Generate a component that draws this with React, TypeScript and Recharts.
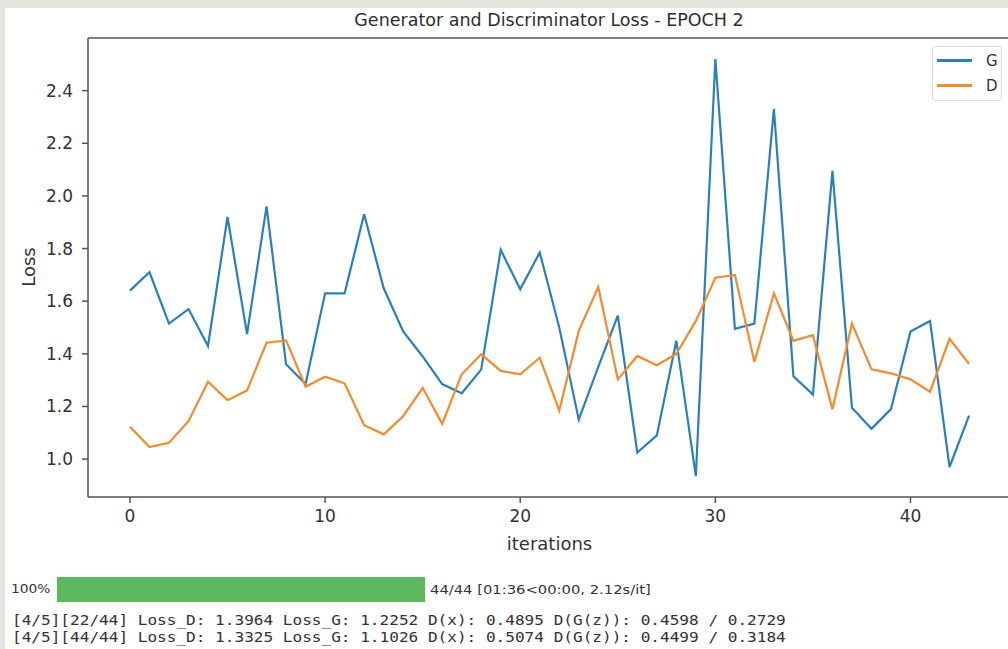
import { LineChart, Line, XAxis, YAxis, ReferenceLine } from "recharts";

const iterations = [
  0, 1, 2, 3, 4, 5, 6, 7, 8, 9, 10, 11, 12, 13, 14, 15, 16, 17, 18, 19, 20, 21,
  22, 23, 24, 25, 26, 27, 28, 29, 30, 31, 32, 33, 34, 35, 36, 37, 38, 39, 40, 41, 42, 43,
];

const lossG = [
  1.64, 1.71, 1.515, 1.57, 1.43, 1.92, 1.475, 1.96, 1.36, 1.285, 1.63, 1.63, 1.93, 1.65,
  1.485, 1.39, 1.285, 1.25, 1.34, 1.795, 1.645, 1.785, 1.5, 1.15, 1.35, 1.545, 1.025, 1.09,
  1.45, 0.935, 2.52, 1.495, 1.515, 2.33, 1.315, 1.245, 2.095, 1.195, 1.115, 1.19, 1.485,
  1.525, 0.97, 1.165,
];

const lossD = [
  1.123, 1.046, 1.062, 1.144, 1.294, 1.224, 1.261, 1.442, 1.451, 1.275, 1.313, 1.288, 1.129,
  1.094, 1.163, 1.271, 1.134, 1.322, 1.398, 1.335, 1.322, 1.385, 1.185, 1.487, 1.654, 1.303,
  1.392, 1.357, 1.4, 1.525, 1.689, 1.7, 1.369, 1.63, 1.449, 1.471, 1.189, 1.515, 1.341, 1.326,
  1.303, 1.256, 1.457, 1.362,
];

const xTicks = [0, 10, 20, 30, 40];
const yTicks = [1.0, 1.2, 1.4, 1.6, 1.8, 2.0, 2.2, 2.4];

const logLines = [
  "[4/5][22/44] Loss_D: 1.3964 Loss_G: 1.2252 D(x): 0.4895 D(G(z)): 0.4598 / 0.2729",
  "[4/5][44/44] Loss_D: 1.3325 Loss_G: 1.1026 D(x): 0.5074 D(G(z)): 0.4499 / 0.3184",
];

const data = iterations.map((it, i) => ({ it, G: lossG[i], D: lossD[i] }));

const BLUE = "#2a80bf";
const ORANGE = "#f58b2a";
const AXIS = "#555";
const font = "DejaVu Sans, sans-serif";

// legend drawn as a small box in the top right corner, like matplotlib's
function LossLegend() {
  const items = [
    { name: "G", color: BLUE },
    { name: "D", color: ORANGE },
  ];
  return (
    <div
      style={{
        position: "absolute",
        left: 932,
        top: 46,
        width: 70,
        height: 55,
        border: "1px solid #ddd",
        borderRadius: 3,
        background: "#fff",
        boxSizing: "border-box",
        paddingTop: 1,
        fontFamily: font,
        fontSize: 15,
        color: "#333",
      }}
    >
      {items.map((d) => (
        <div key={d.name} style={{ display: "flex", alignItems: "center", height: 25 }}>
          <div style={{ width: 35, height: 2.5, background: d.color, marginLeft: 4 }} />
          <span style={{ marginLeft: 14 }}>{d.name}</span>
        </div>
      ))}
    </div>
  );
}

export default function App() {
  return (
    <div
      style={{
        position: "absolute",
        left: 0,
        top: 0,
        width: 1008,
        height: 649,
        background: "#e6e4df",
        overflow: "hidden",
        fontFamily: font,
      }}
    >
      <div style={{ position: "absolute", left: 5, top: 8, right: 0, bottom: 0, background: "#fff" }} />

      <div
        style={{
          position: "absolute",
          left: 549,
          top: 10,
          transform: "translateX(-50%)",
          whiteSpace: "nowrap",
          fontSize: 17.5,
          color: "#2e2e2e",
        }}
      >
        Generator and Discriminator Loss - EPOCH 2
      </div>

      <LineChart
        width={1020}
        height={560}
        data={data}
        margin={{ top: 38, right: 9, left: 0, bottom: 3 }}
        style={{ position: "absolute", left: 0, top: 0 }}
      >
        <XAxis
          dataKey="it"
          type="number"
          domain={[-2.15, 45.15]}
          allowDataOverflow
          ticks={xTicks}
          height={60}
          stroke={AXIS}
          strokeWidth={1.5}
          tickSize={6}
          tickMargin={7}
          tick={{ fill: "#333", fontSize: 17, fontFamily: font }}
          label={{
            value: "iterations",
            position: "insideBottom",
            offset: 7,
            fill: "#333",
            fontSize: 18,
            fontFamily: font,
          }}
        />
        <YAxis
          type="number"
          domain={[0.856, 2.6]}
          allowDataOverflow
          ticks={yTicks}
          width={88}
          stroke={AXIS}
          strokeWidth={1.5}
          tickSize={6}
          tickMargin={9}
          tickFormatter={(v: number) => v.toFixed(1)}
          tick={{ fill: "#333", fontSize: 17, fontFamily: font }}
          label={{
            content: () => (
              <text
                x={28}
                y={267}
                transform="rotate(-90 28 267)"
                textAnchor="middle"
                dominantBaseline="central"
                fill="#333"
                fontSize={18}
                fontFamily={font}
              >
                Loss
              </text>
            ),
          }}
        />
        <ReferenceLine y={2.6} stroke={AXIS} strokeWidth={1.5} />
        <Line
          type="linear"
          dataKey="G"
          name="G"
          stroke={BLUE}
          strokeWidth={2.2}
          dot={false}
          isAnimationActive={false}
        />
        <Line
          type="linear"
          dataKey="D"
          name="D"
          stroke={ORANGE}
          strokeWidth={2.2}
          dot={false}
          isAnimationActive={false}
        />
      </LineChart>

      <LossLegend />

      <div
        style={{
          position: "absolute",
          left: 11,
          top: 582,
          fontSize: 12,
          color: "#333",
          transform: "scaleX(1.15)",
          transformOrigin: "left",
        }}
      >
        100%
      </div>
      <div style={{ position: "absolute", left: 57, top: 577, width: 368, height: 25, background: "#5cb85c" }} />
      <div
        style={{
          position: "absolute",
          left: 430,
          top: 582,
          fontSize: 12.5,
          color: "#333",
          whiteSpace: "nowrap",
          transform: "scaleX(1.18)",
          transformOrigin: "left",
        }}
      >
        44/44 [01:36&lt;00:00, 2.12s/it]
      </div>

      <div
        style={{
          position: "absolute",
          left: 12,
          top: 612,
          fontFamily: "DejaVu Sans Mono, monospace",
          fontSize: 13.5,
          lineHeight: "16.5px",
          color: "#333",
          whiteSpace: "pre",
          transform: "scaleX(1.19)",
          transformOrigin: "left",
        }}
      >
        {logLines.map((l) => (
          <div key={l}>{l}</div>
        ))}
      </div>
    </div>
  );
}
